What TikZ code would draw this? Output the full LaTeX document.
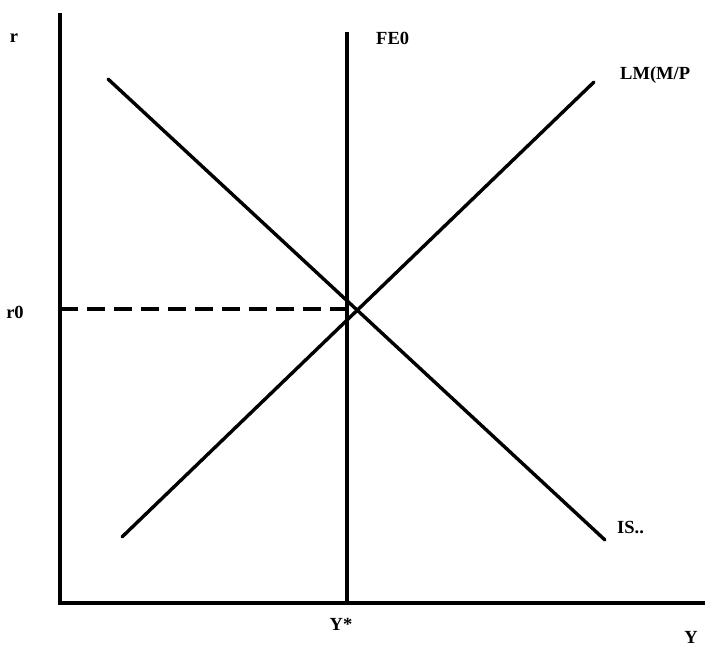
\documentclass[tikz,border=0pt]{standalone}
\usepackage{fontspec}
\setmainfont{Liberation Serif}
\begin{document}
\begin{tikzpicture}[x=1pt,y=-1pt,
  axisline/.style={line width=4pt},
  curve/.style={line width=3.4pt},
  dashline/.style={line width=3.6pt,dash pattern=on 18pt off 9pt},
  lbl/.style={font=\fontsize{18.5}{20}\selectfont\bfseries,inner sep=0pt}]
\useasboundingbox (0,0) rectangle (712,649);
\fill[white] (0,0) rectangle (712,649);
% coordinates
\coordinate (O) at (60,603);
\coordinate (ytop) at (60,13);
\coordinate (xend) at (705,603);
\coordinate (fetop) at (347,32);
\coordinate (febot) at (347,603);
\coordinate (is1) at (108,79);
\coordinate (is2) at (605,540);
\coordinate (lm1) at (122,537);
\coordinate (lm2) at (594,82);
\coordinate (r0pt) at (60,309);
\coordinate (eq) at (349,309);
% axes
\draw[axisline] (ytop) -- (O) -- (xend);
% FE line
\draw[curve] (fetop) -- (febot);
% IS and LM
\draw[curve,line cap=round] (is1) -- (is2);
\draw[curve,line cap=round] (lm1) -- (lm2);
% dashed
\draw[dashline] (r0pt) -- (eq);
% labels
\node[lbl] (rlab) at (14,38) {r};
\node[lbl,anchor=west] (felab) at (376,38) {FE0};
\node[lbl,anchor=west] (lmlab) at (620,75) {LM(M/P};
\node[lbl] (r0lab) at (15,312) {r0};
\node[lbl,anchor=west] (islab) at (617,527) {IS..};
\node[lbl] (ystar) at (341,624) {Y*};
\node[lbl] (ylab) at (691,637) {Y};
\end{tikzpicture}
\end{document}
